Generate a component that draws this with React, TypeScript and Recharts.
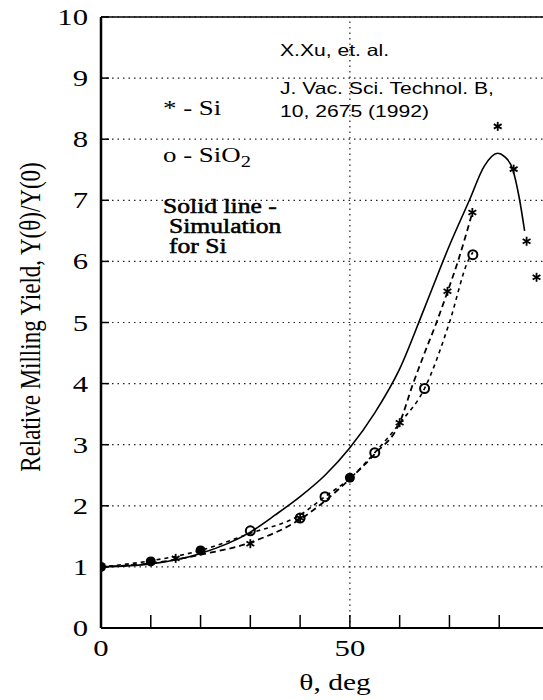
import React from 'react';
import {
  ComposedChart,
  Line,
  Scatter,
  XAxis,
  YAxis,
  CartesianGrid,
  ReferenceLine,
} from 'recharts';

// measured points, theta in deg vs relative yield
const siPoints = [
  { x: 15, y: 1.14 },
  { x: 30, y: 1.38 },
  { x: 40, y: 1.8 },
  { x: 60, y: 3.36 },
  { x: 69.6, y: 5.51 },
  { x: 74.6, y: 6.8 },
  { x: 79.7, y: 8.21 },
  { x: 82.9, y: 7.51 },
  { x: 85.5, y: 6.33 },
  { x: 87.5, y: 5.74 },
];

const sio2Points = [
  { x: 30, y: 1.59 },
  { x: 40, y: 1.8 },
  { x: 45, y: 2.15 },
  { x: 55, y: 2.87 },
  { x: 65, y: 3.92 },
  { x: 74.7, y: 6.11 },
];

// Si and SiO2 symbols printed on top of each other
const sharedPoints = [
  { x: 0, y: 1 },
  { x: 10, y: 1.09 },
  { x: 20, y: 1.27 },
  { x: 50, y: 2.46 },
];

const simulation = [
  { x: 0, y: 1 },
  { x: 10, y: 1.05 },
  { x: 20, y: 1.22 },
  { x: 30, y: 1.57 },
  { x: 35, y: 1.85 },
  { x: 40, y: 2.15 },
  { x: 45, y: 2.5 },
  { x: 50, y: 2.95 },
  { x: 55, y: 3.52 },
  { x: 60, y: 4.24 },
  { x: 65, y: 5.24 },
  { x: 70, y: 6.26 },
  { x: 74, y: 7.0 },
  { x: 77, y: 7.56 },
  { x: 79.7, y: 7.77 },
  { x: 81, y: 7.72 },
  { x: 82.7, y: 7.51 },
  { x: 84, y: 7.05 },
  { x: 85.1, y: 6.5 },
];

const siFit = [
  { x: 0, y: 1 },
  { x: 10, y: 1.06 },
  { x: 15, y: 1.12 },
  { x: 20, y: 1.2 },
  { x: 30, y: 1.4 },
  { x: 40, y: 1.78 },
  { x: 50, y: 2.44 },
  { x: 55, y: 2.85 },
  { x: 60, y: 3.36 },
  { x: 62.7, y: 4 },
  { x: 65, y: 4.5 },
  { x: 67.4, y: 5 },
  { x: 69.6, y: 5.5 },
  { x: 71.7, y: 6 },
  { x: 74.6, y: 6.8 },
];

const sio2Fit = [
  { x: 0, y: 1 },
  { x: 10, y: 1.1 },
  { x: 20, y: 1.27 },
  { x: 30, y: 1.55 },
  { x: 40, y: 1.85 },
  { x: 45, y: 2.15 },
  { x: 50, y: 2.45 },
  { x: 55, y: 2.87 },
  { x: 60, y: 3.35 },
  { x: 65, y: 3.92 },
  { x: 70, y: 5.0 },
  { x: 73.7, y: 6 },
  { x: 74.7, y: 6.15 },
];

const xTicks = [0, 10, 20, 30, 40, 50, 60, 70, 80, 90];
const xLabelTicks = [0, 50];
const yTicks = [0, 1, 2, 3, 4, 5, 6, 7, 8, 9, 10];

const SERIF = '"Liberation Serif", "Times New Roman", serif';
const SANS = '"Liberation Sans", Arial, sans-serif';
// the scanned figure is stretched sideways
const SX = 1.28;

function Txt({ x, y, size, family = SERIF, anchor = 'start', heavy = false, children }: any) {
  return (
    <text
      transform={`translate(${x},${y}) scale(${SX},1)`}
      x={0}
      y={0}
      fontSize={size}
      fontFamily={family}
      textAnchor={anchor}
      fill="#000"
      stroke={heavy ? '#000' : 'none'}
      strokeWidth={heavy ? 0.5 : 0}
    >
      {children}
    </text>
  );
}

const LeftTick = ({ x, y, payload }: any) => (
  <g>
    <line x1={x} x2={x + 8} y1={y} y2={y} stroke="#000" strokeWidth={1.5} />
    <Txt x={x - 13} y={y + 8} size={24} anchor="end">
      {payload.value}
    </Txt>
  </g>
);

const RightTick = ({ x, y }: any) => (
  <line x1={x - 12} x2={x} y1={y} y2={y} stroke="#000" strokeWidth={1.5} />
);

const BottomTick = ({ x, y, payload }: any) => (
  <g>
    <line x1={x} x2={x} y1={y} y2={y - 13} stroke="#000" strokeWidth={1.5} />
    {xLabelTicks.includes(payload.value) && (
      <Txt x={x} y={y + 28} size={24} anchor="middle">
        {payload.value}
      </Txt>
    )}
  </g>
);

const TopTick = ({ x, y }: any) => (
  <line x1={x} x2={x} y1={y} y2={y + 6} stroke="#000" strokeWidth={1.2} />
);

const StarShape = ({ cx, cy }: any) => {
  const r = 4.5;
  const dx = r * Math.sin(Math.PI / 3);
  const dy = r * Math.cos(Math.PI / 3);
  return (
    <g stroke="#000" strokeWidth={1.8}>
      <line x1={cx} x2={cx} y1={cy - r} y2={cy + r} />
      <line x1={cx - dx} x2={cx + dx} y1={cy - dy} y2={cy + dy} />
      <line x1={cx - dx} x2={cx + dx} y1={cy + dy} y2={cy - dy} />
    </g>
  );
};

const CircleShape = ({ cx, cy }: any) => (
  <circle cx={cx} cy={cy} r={4.5} fill="none" stroke="#000" strokeWidth={2} />
);

const DotShape = ({ cx, cy }: any) => <circle cx={cx} cy={cy} r={5} fill="#000" />;

export default function App() {
  return (
    <div
      style={{
        position: 'absolute',
        left: 0,
        top: 0,
        width: 543,
        height: 700,
        overflow: 'hidden',
        background: '#fff',
      }}
    >
      <ComposedChart
        width={560}
        height={700}
        margin={{ top: 7, right: 1, left: 41, bottom: 32 }}
      >
        <CartesianGrid vertical={false} stroke="#222" strokeWidth={1.2} strokeDasharray="1.5 4" />
        <XAxis
          dataKey="x"
          type="number"
          domain={[0, 90]}
          ticks={xTicks}
          height={40}
          tickSize={0}
          tickMargin={0}
          tickLine={false}
          tick={<BottomTick />}
          axisLine={{ stroke: '#000', strokeWidth: 2 }}
          allowDataOverflow
        />
        <XAxis
          xAxisId="t"
          orientation="top"
          type="number"
          domain={[0, 90]}
          ticks={[50]}
          height={10}
          tickSize={0}
          tickMargin={0}
          tickLine={false}
          tick={<TopTick />}
          axisLine={{ stroke: '#000', strokeWidth: 1.5 }}
        />
        <YAxis
          dataKey="y"
          type="number"
          domain={[0, 10]}
          ticks={yTicks}
          width={60}
          tickSize={0}
          tickMargin={0}
          tickLine={false}
          tick={<LeftTick />}
          axisLine={{ stroke: '#000', strokeWidth: 2.5 }}
        />
        <YAxis
          yAxisId="r"
          orientation="right"
          type="number"
          domain={[0, 10]}
          ticks={yTicks}
          width={10}
          tickSize={0}
          tickMargin={0}
          tickLine={false}
          tick={<RightTick />}
          axisLine={{ stroke: '#000', strokeWidth: 1.5 }}
        />
        <ReferenceLine x={50} stroke="#222" strokeWidth={1.2} strokeDasharray="1.5 4" />

        <Line
          data={simulation}
          dataKey="y"
          type="monotone"
          stroke="#000"
          strokeWidth={1.6}
          dot={false}
          isAnimationActive={false}
        />
        <Line
          data={siFit}
          dataKey="y"
          type="monotone"
          stroke="#000"
          strokeWidth={1.8}
          strokeDasharray="6 4"
          dot={false}
          isAnimationActive={false}
        />
        <Line
          data={sio2Fit}
          dataKey="y"
          type="monotone"
          stroke="#000"
          strokeWidth={1.6}
          strokeDasharray="4 4"
          dot={false}
          isAnimationActive={false}
        />

        <Scatter data={siPoints} shape={<StarShape />} isAnimationActive={false} />
        <Scatter data={sio2Points} shape={<CircleShape />} isAnimationActive={false} />
        <Scatter data={sharedPoints} shape={<DotShape />} isAnimationActive={false} />

        <g transform={`translate(40,317) scale(${SX},1) rotate(-90)`}>
          <text x={0} y={0} fontSize={23} fontFamily={SERIF} textAnchor="middle" fill="#000">
            Relative Milling Yield, Y(θ)/Y(0)
          </text>
        </g>
        <Txt x={335} y={690} size={23} anchor="middle">
          θ, deg
        </Txt>

        <Txt x={163} y={115} size={21}>
          * - Si
        </Txt>
        <Txt x={163} y={162} size={21}>
          o - SiO<tspan dy={5} fontSize={16}>2</tspan>
        </Txt>
        <Txt x={163} y={213} size={20} heavy>
          Solid line -
        </Txt>
        <Txt x={169} y={233} size={20} heavy>
          Simulation
        </Txt>
        <Txt x={169} y={253} size={20} heavy>
          for Si
        </Txt>

        <Txt x={280} y={56} size={16.5} family={SANS}>
          X.Xu, et. al.
        </Txt>
        <Txt x={280} y={94} size={16.5} family={SANS}>
          J. Vac. Sci. Technol. B,
        </Txt>
        <Txt x={280} y={117} size={16.5} family={SANS}>
          10, 2675 (1992)
        </Txt>
      </ComposedChart>
    </div>
  );
}
